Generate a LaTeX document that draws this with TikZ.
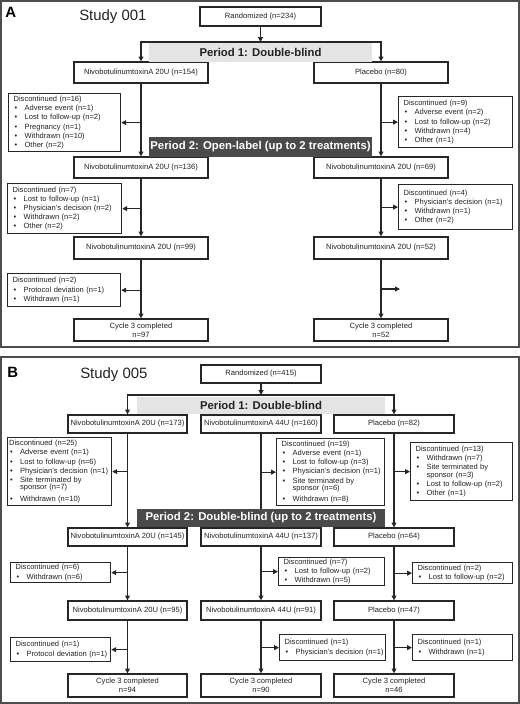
\documentclass[tikz,border=0pt]{standalone}
\usepackage{fontspec}
\setmainfont{Liberation Sans}
\usetikzlibrary{arrows.meta}
\newdimen\pxu \pxu=0.75pt
\definecolor{bc}{HTML}{262626}
\definecolor{fc}{HTML}{4D4D4D}
\definecolor{lg}{HTML}{E4E4E4}
\definecolor{dg}{HTML}{4A4A4A}
\definecolor{tc}{HTML}{222222}
\newcommand\bfont{\fontsize{5.65}{6.9}\selectfont}
\newcommand\cfont{\fontsize{5.7}{7}\selectfont}
\newcommand\bul[1]{\mbox{\makebox[11\pxu][l]{\hspace{1\pxu}\textbullet}#1}}
\newcommand\ind{\hspace*{11\pxu}}
\begin{document}
\begin{tikzpicture}[x=0.75pt,y=-0.75pt,
 box/.style={draw=bc, line width=0.95pt, fill=white, text=tc, font=\cfont, inner sep=0pt, align=center},
 disc/.style={draw=bc, line width=0.95pt, fill=white, text=tc, font=\bfont, inner xsep=5\pxu, inner ysep=0pt, align=left, anchor=north west},
 conn/.style={draw=bc, line width=0.8pt},
 arr/.style={conn, -{Triangle[length=3.6pt,width=3.6pt]}},
 frame/.style={draw=fc, line width=0.9pt},
 ban1/.style={fill=lg, inner sep=0pt, font=\fontsize{8.5}{10}\selectfont\bfseries, text=tc},
 ban2/.style={fill=dg, inner sep=0pt, font=\fontsize{8.5}{10}\selectfont\bfseries, text=white},
 plab/.style={font=\fontsize{11.2}{13}\selectfont\bfseries, text=black, inner sep=0pt, anchor=base west},
 study/.style={font=\fontsize{11.2}{13}\selectfont, text=tc, inner sep=0pt, anchor=base west}]
\useasboundingbox (0,0) rectangle (520,704);

%================ Panel A =================
\draw[frame] (1,1) rectangle (519,347);
\node[plab] (labA) at (5,17.5) {A};
\node[study] (studyA) at (79,20.5) {Study 001};

\node[box, minimum width=121\pxu, minimum height=19\pxu] (randA) at (260.5,16.5) {Randomized (n=234)};
\coordinate (jA) at (260.5,42);

\node[box, minimum width=134\pxu, minimum height=21\pxu] (L1A) at (141,72.5) {NivobotulinumtoxinA 20U (n=154)};
\node[box, minimum width=134\pxu, minimum height=21\pxu] (R1A) at (381,72.5) {Placebo (n=80)};
\node[box, minimum width=134\pxu, minimum height=21\pxu] (L2A) at (141,167.5) {NivobotulinumtoxinA 20U (n=136)};
\node[box, minimum width=134\pxu, minimum height=21\pxu] (R2A) at (381,167.5) {NivobotulinumtoxinA 20U (n=69)};
\node[box, minimum width=134\pxu, minimum height=22\pxu] (L3A) at (141,248) {NivobotulinumtoxinA 20U (n=99)};
\node[box, minimum width=134\pxu, minimum height=22\pxu] (R3A) at (381,248) {NivobotulinumtoxinA 20U (n=52)};
\node[box, minimum width=134\pxu, minimum height=22\pxu] (cLA) at (141,330) {Cycle 3 completed\\n=97};
\node[box, minimum width=134\pxu, minimum height=22\pxu] (cRA) at (381,330) {Cycle 3 completed\\n=52};

\node[disc, minimum width=112\pxu, minimum height=58\pxu, text width=102\pxu] (dA1) at (8,93)
 {Discontinued (n=16)\\\bul{Adverse event (n=1)}\\\bul{Lost to follow-up (n=2)}\\\bul{Pregnancy (n=1)}\\\bul{Withdrawn (n=10)}\\\bul{Other (n=2)}};
\node[disc, minimum width=114\pxu, minimum height=51\pxu, text width=104\pxu] (dRA1) at (398,96)
 {Discontinued (n=9)\\\bul{Adverse event (n=2)}\\\bul{Lost to follow-up (n=2)}\\\bul{Withdrawn (n=4)}\\\bul{Other (n=1)}};
\node[disc, minimum width=114\pxu, minimum height=50\pxu, text width=104\pxu] (dA2) at (7,183)
 {Discontinued (n=7)\\\bul{Lost to follow-up (n=1)}\\\bul{Physician's decision (n=2)}\\\bul{Withdrawn (n=2)}\\\bul{Other (n=2)}};
\node[disc, minimum width=114\pxu, minimum height=45\pxu, text width=104\pxu] (dRA2) at (398,184)
 {Discontinued (n=4)\\\bul{Physician's decision (n=1)}\\\bul{Withdrawn (n=1)}\\\bul{Other (n=2)}};
\node[disc, minimum width=113\pxu, minimum height=33\pxu, text width=103\pxu] (dA3) at (7,273)
 {Discontinued (n=2)\\\bul{Protocol deviation (n=1)}\\\bul{Withdrawn (n=1)}};
\coordinate (fA) at (400,289);

\draw[arr] (randA.south) -- (jA);
\draw[arr] (jA) -| (L1A.north);
\draw[arr] (jA) -| (R1A.north);
\draw[arr] (L1A.south) -- (L2A.north);
\draw[arr] (L2A.south) -- (L3A.north);
\draw[arr] (L3A.south) -- (cLA.north);
\draw[arr] (R1A.south) -- (R2A.north);
\draw[arr] (R2A.south) -- (R3A.north);
\draw[arr] (R3A.south) -- (cRA.north);
\draw[arr] (L1A.south |- dA1.east) -- (dA1.east);
\draw[arr] (L2A.south |- dA2.east) -- (dA2.east);
\draw[arr] (L3A.south |- dA3.east) -- (dA3.east);
\draw[arr] (R1A.south |- dRA1.west) -- (dRA1.west);
\draw[arr] (R2A.south |- dRA2.west) -- (dRA2.west);
\draw[arr] (R3A.south |- fA) -- (fA);

\node[ban1, minimum width=223\pxu, minimum height=19\pxu] (p1A) at (260.5,52.5) {Period 1: Double-blind};
\node[ban2, minimum width=223\pxu, minimum height=20\pxu] (p2A) at (260.5,147) {Period 2: Open-label (up to 2 treatments)};

%================ Panel B =================
\draw[frame] (1,357) rectangle (519,703);
\node[plab] (labB) at (7,377.5) {B};
\node[study] (studyB) at (80,378) {Study 005};

\node[box, minimum width=120\pxu, minimum height=18\pxu] (randB) at (261,374) {Randomized (n=415)};
\coordinate (jB) at (261,395);

\node[box, minimum width=119\pxu, minimum height=18\pxu] (L1B) at (127.5,424) {NivobotulinumtoxinA 20U (n=173)};
\node[box, minimum width=120\pxu, minimum height=18\pxu] (M1B) at (261,424) {NivobotulinumtoxinA 44U (n=160)};
\node[box, minimum width=120\pxu, minimum height=18\pxu] (R1B) at (394,424) {Placebo (n=82)};
\node[box, minimum width=119\pxu, minimum height=18\pxu] (L2B) at (127.5,537) {NivobotulinumtoxinA 20U (n=145)};
\node[box, minimum width=120\pxu, minimum height=18\pxu] (M2B) at (261,537) {NivobotulinumtoxinA 44U (n=137)};
\node[box, minimum width=120\pxu, minimum height=18\pxu] (R2B) at (394,537) {Placebo (n=64)};
\node[box, minimum width=119\pxu, minimum height=19\pxu] (L3B) at (127.5,610.5) {NivobotulinumtoxinA 20U (n=95)};
\node[box, minimum width=120\pxu, minimum height=19\pxu] (M3B) at (261,610.5) {NivobotulinumtoxinA 44U (n=91)};
\node[box, minimum width=120\pxu, minimum height=19\pxu] (R3B) at (394,610.5) {Placebo (n=47)};
\node[box, minimum width=119\pxu, minimum height=23\pxu] (cLB) at (127.5,685.5) {Cycle 3 completed\\n=94};
\node[box, minimum width=120\pxu, minimum height=23\pxu] (cMB) at (261,685.5) {Cycle 3 completed\\n=90};
\node[box, minimum width=120\pxu, minimum height=23\pxu] (cRB) at (394,685.5) {Cycle 3 completed\\n=46};

\node[disc, inner xsep=1.5\pxu, minimum width=104\pxu, minimum height=68\pxu, text width=101\pxu] (dLB1) at (7,437)
 {Discontinued (n=25)\\\bul{Adverse event (n=1)}\\\bul{Lost to follow-up (n=6)}\\\bul{Physician's decision (n=1)}\\\bul{Site terminated by}\\[-1.9\pxu]\ind sponsor (n=7)\\[2.4\pxu]\bul{Withdrawn (n=10)}};
\node[disc, minimum width=108\pxu, minimum height=67\pxu, text width=98\pxu] (dMB1) at (276,438)
 {Discontinued (n=19)\\\bul{Adverse event (n=1)}\\\bul{Lost to follow-up (n=3)}\\\bul{Physician's decision (n=1)}\\\bul{Site terminated by}\\[-1.9\pxu]\ind sponsor (n=6)\\[2.4\pxu]\bul{Withdrawn (n=8)}};
\node[disc, minimum width=102\pxu, minimum height=58\pxu, text width=92\pxu] (dRB1) at (410,442)
 {Discontinued (n=13)\\\bul{Withdrawn (n=7)}\\\bul{Site terminated by}\\[-1.9\pxu]\ind sponsor (n=3)\\\bul{Lost to follow-up (n=2)}\\\bul{Other (n=1)}};
\node[disc, minimum width=100\pxu, minimum height=20\pxu, text width=90\pxu] (dLB2) at (10,562)
 {Discontinued (n=6)\\\bul{Withdrawn (n=6)}};
\node[disc, minimum width=106\pxu, minimum height=28\pxu, text width=96\pxu] (dMB2) at (278,557)
 {Discontinued (n=7)\\\bul{Lost to follow-up (n=2)}\\\bul{Withdrawn (n=5)}};
\node[disc, minimum width=100\pxu, minimum height=21\pxu, text width=90\pxu] (dRB2) at (412,562)
 {Discontinued (n=2)\\\bul{Lost to follow-up (n=2)}};
\node[disc, minimum width=100\pxu, minimum height=24\pxu, text width=90\pxu] (dLB3) at (10,637)
 {Discontinued (n=1)\\\bul{Protocol deviation (n=1)}};
\node[disc, minimum width=106\pxu, minimum height=26\pxu, text width=96\pxu] (dMB3) at (279,634)
 {Discontinued (n=1)\\\bul{Physician's decision (n=1)}};
\node[disc, minimum width=100\pxu, minimum height=26\pxu, text width=90\pxu] (dRB3) at (412,634)
 {Discontinued (n=1)\\\bul{Withdrawn (n=1)}};

\draw[arr] (randB.south) -- (jB);
\draw[arr] (jB) -| (L1B.north);
\draw[arr] (jB) -| (R1B.north);
\draw[arr] (L1B.south) -- (L2B.north);
\draw[arr] (L2B.south) -- (L3B.north);
\draw[arr] (L3B.south) -- (cLB.north);
\draw[conn] (M1B.south) -- (M2B.north);
\draw[arr] (M2B.south) -- (M3B.north);
\draw[arr] (M3B.south) -- (cMB.north);
\draw[arr] (R1B.south) -- (R2B.north);
\draw[arr] (R2B.south) -- (R3B.north);
\draw[arr] (R3B.south) -- (cRB.north);
\draw[arr] (L1B.south |- dLB1.east) -- (dLB1.east);
\draw[arr] (L2B.south |- dLB2.east) -- (dLB2.east);
\draw[arr] (L3B.south |- dLB3.east) -- (dLB3.east);
\draw[arr] (M1B.south |- dMB1.west) -- (dMB1.west);
\draw[arr] (M2B.south |- dMB2.west) -- (dMB2.west);
\draw[arr] (M3B.south |- dMB3.west) -- (dMB3.west);
\draw[arr] (R1B.south |- dRB1.west) -- (dRB1.west);
\draw[arr] (R2B.south |- dRB2.west) -- (dRB2.west);
\draw[arr] (R3B.south |- dRB3.west) -- (dRB3.west);

\node[ban1, minimum width=248\pxu, minimum height=17\pxu] (p1B) at (261,405.5) {Period 1: Double-blind};
\node[ban2, minimum width=248\pxu, minimum height=18\pxu] (p2B) at (261,518) {Period 2: Double-blind (up to 2 treatments)};
\end{tikzpicture}
\end{document}
